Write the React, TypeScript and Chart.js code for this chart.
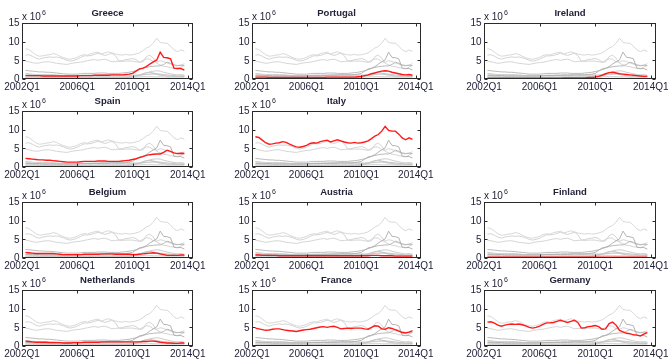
import React, { useEffect, useRef } from "react";
import { Chart, registerables } from "chart.js";

Chart.register(...registerables);

// ---------------- data ----------------
const firstQuarter = "2002Q2";
const xTickLabels = ["2002Q1", "2006Q1", "2010Q1", "2014Q1"];
const yTicks = [0, 5, 10, 15];
const yExponent = "6";

// quarterly values, 2002Q2 ... 2013Q4 (x 10^6)
const greece = [
  0.9, 0.9, 0.9,
  0.9, 0.9, 0.8, 0.8,
  0.8, 0.8, 0.8, 0.8,
  0.8, 0.8, 0.8, 0.8,
  0.8, 0.9, 0.9, 0.9,
  0.9, 1.0, 1.0, 1.0,
  1.0, 1.0, 1.1, 1.1,
  1.1, 1.1, 1.2, 1.3,
  1.5, 2.1, 2.7, 2.9,
  3.3, 4.0, 4.6, 5.1,
  7.2, 5.8, 5.7, 5.4,
  2.9, 2.8, 2.8, 2.4,
];
const portugal = [
  0.5, 0.5, 0.5,
  0.5, 0.4, 0.4, 0.4,
  0.4, 0.4, 0.4, 0.4,
  0.4, 0.4, 0.4, 0.4,
  0.4, 0.4, 0.4, 0.4,
  0.4, 0.4, 0.5, 0.5,
  0.5, 0.5, 0.5, 0.5,
  0.5, 0.5, 0.5, 0.6,
  0.7, 0.9, 1.1, 1.4,
  1.6, 1.9, 2.1, 2.2,
  2.1, 1.8, 1.6, 1.4,
  1.2, 1.1, 1.2, 1.0,
];
const ireland = [
  0.2, 0.2, 0.2,
  0.2, 0.2, 0.2, 0.2,
  0.2, 0.2, 0.2, 0.2,
  0.2, 0.2, 0.2, 0.2,
  0.2, 0.2, 0.2, 0.2,
  0.2, 0.2, 0.2, 0.3,
  0.3, 0.3, 0.3, 0.3,
  0.3, 0.3, 0.4, 0.4,
  0.5, 0.7, 1.0, 1.4,
  1.7, 1.8, 1.6, 1.4,
  1.3, 1.2, 1.1, 1.0,
  0.9, 0.8, 0.7, 0.7,
];
const spain = [
  2.3, 2.2, 2.1,
  2.0, 1.9, 1.9, 1.8,
  1.8, 1.7, 1.6, 1.5,
  1.4, 1.3, 1.3, 1.3,
  1.3, 1.4, 1.5, 1.5,
  1.5, 1.5, 1.6, 1.6,
  1.6, 1.5, 1.5, 1.5,
  1.5, 1.6, 1.7, 1.8,
  2.0, 2.2, 2.5, 2.8,
  3.1, 3.3, 3.4, 3.5,
  3.5, 3.9, 4.5, 4.2,
  3.8, 3.6, 3.7, 3.6,
];
const italy = [
  8.1, 7.9, 7.2,
  6.5, 6.1, 6.2, 6.4,
  6.5, 6.8, 6.6, 6.1,
  5.7, 5.4, 5.3, 5.5,
  5.8, 6.3, 6.5, 6.4,
  6.8, 7.0, 7.2, 6.7,
  7.0, 7.3, 7.0, 6.7,
  6.5, 6.4, 6.6, 6.4,
  6.5, 6.7, 7.0, 7.6,
  8.3, 8.7, 9.6, 10.9,
  9.8, 9.6, 9.6, 8.8,
  7.8, 7.3, 7.8, 7.4,
];
const belgium = [
  1.5, 1.4, 1.3,
  1.2, 1.2, 1.2, 1.2,
  1.2, 1.2, 1.1, 1.0,
  0.9, 0.9, 0.9, 0.9,
  0.9, 0.9, 1.0, 1.0,
  1.0, 1.0, 1.0, 1.1,
  1.1, 1.1, 1.1, 1.0,
  1.0, 1.0, 1.0, 1.0,
  0.9, 0.9, 1.0, 1.1,
  1.2, 1.3, 1.4, 1.3,
  1.1, 0.9, 0.7, 0.7,
  0.7, 0.7, 0.8, 0.8,
];
const austria = [
  0.8, 0.8, 0.7,
  0.7, 0.7, 0.7, 0.7,
  0.6, 0.6, 0.6, 0.6,
  0.6, 0.6, 0.6, 0.6,
  0.6, 0.6, 0.6, 0.6,
  0.6, 0.6, 0.6, 0.6,
  0.6, 0.6, 0.6, 0.6,
  0.6, 0.6, 0.6, 0.6,
  0.6, 0.6, 0.6, 0.7,
  0.7, 0.7, 0.6, 0.6,
  0.6, 0.6, 0.5, 0.5,
  0.5, 0.5, 0.5, 0.5,
];
const finland = [
  0.2, 0.2, 0.2,
  0.2, 0.2, 0.2, 0.2,
  0.2, 0.2, 0.2, 0.2,
  0.2, 0.2, 0.2, 0.2,
  0.2, 0.2, 0.2, 0.2,
  0.2, 0.2, 0.2, 0.2,
  0.2, 0.2, 0.2, 0.2,
  0.2, 0.2, 0.2, 0.2,
  0.2, 0.2, 0.2, 0.2,
  0.2, 0.2, 0.2, 0.2,
  0.2, 0.2, 0.2, 0.2,
  0.2, 0.2, 0.2, 0.2,
];
const netherlands = [
  1.3, 1.2, 1.1,
  1.0, 1.0, 1.0, 1.0,
  0.9, 0.9, 0.9, 0.9,
  0.8, 0.8, 0.8, 0.9,
  0.9, 0.9, 1.0, 1.0,
  1.0, 1.0, 1.0, 1.1,
  1.1, 1.1, 1.1, 1.1,
  1.1, 1.1, 1.1, 1.1,
  1.1, 1.1, 1.1, 1.2,
  1.2, 1.3, 1.3, 1.2,
  1.0, 0.9, 0.8, 0.8,
  0.7, 0.7, 0.8, 0.8,
];
const france = [
  4.8, 4.6, 4.4,
  4.2, 4.3, 4.5, 4.6,
  4.6, 4.4, 4.2, 4.1,
  4.0, 3.9, 4.1, 4.3,
  4.4, 4.5, 4.7, 4.9,
  5.1, 5.2, 5.0, 5.2,
  5.3, 5.0, 4.6, 4.7,
  4.8, 4.7, 4.8, 4.8,
  4.8, 4.6, 4.5, 5.0,
  5.4, 5.3, 4.6, 4.5,
  4.9, 4.7, 4.3, 4.0,
  3.6, 3.5, 3.7, 4.1,
];
const germany = [
  6.4, 6.5, 6.1,
  5.6, 5.3, 5.6, 5.8,
  5.9, 5.8, 5.9, 5.7,
  5.4, 5.0, 4.8, 5.0,
  5.3, 5.8, 6.2, 6.2,
  6.3, 6.6, 6.9, 6.6,
  6.3, 6.6, 6.9, 6.3,
  4.8, 4.9, 5.2, 5.3,
  5.5, 5.2, 4.5, 4.6,
  6.0, 6.4, 5.6, 4.2,
  3.8, 3.4, 3.3, 3.0,
  2.9, 2.7, 3.2, 3.6,
];

const countries = [
  "Greece", "Portugal", "Ireland", "Spain", "Italy", "Belgium",
  "Austria", "Finland", "Netherlands", "France", "Germany",
];
const seriesByCountry: Record<string, number[]> = {
  Greece: greece, Portugal: portugal, Ireland: ireland, Spain: spain,
  Italy: italy, Belgium: belgium, Austria: austria, Finland: finland,
  Netherlands: netherlands, France: france, Germany: germany,
};
const grayByCountry: Record<string, string> = {
  Greece: "#ababab", Portugal: "#c6c6c6", Ireland: "#bebebe", Spain: "#b2b2b2",
  Italy: "#d4d4d4", Belgium: "#cbcbcb", Austria: "#cecece", Finland: "#c8c8c8",
  Netherlands: "#cccccc", France: "#d0d0d0", Germany: "#cfcfcf",
};

// grid of panels (row, col) -> country
const panelGrid = [
  ["Greece", "Portugal", "Ireland"],
  ["Spain", "Italy", null],
  ["Belgium", "Austria", "Finland"],
  ["Netherlands", "France", "Germany"],
];

// ---------------- layout ----------------
const colLeft = [22, 252, 484];
const colWidth = [171, 169, 172];
const rowTop = [23, 111, 202, 290];
const boxHeight = 56;
const PAD = { left: 24, top: 23, right: 18, bottom: 16 };
const X_MAX = 49.5;
const TEXT = "#23233a";
const FONT = '"Liberation Sans", Arial, Helvetica, sans-serif';

const quarterIndex = (s: string) =>
  (parseInt(s.slice(0, 4), 10) - 2002) * 4 + parseInt(s.slice(5), 10) - 1;

function Panel({ name, left, top, width, height }: { name: string; left: number; top: number; width: number; height: number }) {
  const ref = useRef<HTMLCanvasElement | null>(null);
  useEffect(() => {
    const canvas = ref.current;
    if (!canvas) return;
    const start = quarterIndex(firstQuarter);
    const toPoints = (arr: number[]) => arr.map((v, i) => ({ x: start + i, y: v }));
    const others = countries.filter((c) => c !== name);
    const datasets: any[] = [
      {
        label: name,
        data: toPoints(seriesByCountry[name]),
        borderColor: "rgb(255,25,25)",
        borderWidth: 1.4,
        pointRadius: 0,
        tension: 0,
      },
      ...others.map((c) => ({
        label: c,
        data: toPoints(seriesByCountry[c]),
        borderColor: grayByCountry[c],
        borderWidth: 0.9,
        pointRadius: 0,
        tension: 0,
      })),
    ];

    const framePlugin = {
      id: "frame",
      afterDraw(chart: any) {
        const { ctx, chartArea } = chart;
        const xs = chart.scales.x;
        const ys = chart.scales.y;
        const l = Math.round(chartArea.left) + 0.5;
        const r = Math.round(chartArea.right) - 0.5;
        const t = Math.round(chartArea.top) + 0.5;
        const b = Math.round(chartArea.bottom) - 0.5;
        ctx.save();
        ctx.strokeStyle = "#2a2a2a";
        ctx.lineWidth = 1;
        ctx.strokeRect(l, t, r - l, b - t);
        const tick = 3;
        ctx.beginPath();
        yTicks.forEach((v) => {
          const y = Math.round(ys.getPixelForValue(v)) + 0.5;
          ctx.moveTo(l, y); ctx.lineTo(l + tick, y);
          ctx.moveTo(r, y); ctx.lineTo(r - tick, y);
        });
        xTickLabels.forEach((lab) => {
          const x = Math.round(xs.getPixelForValue(quarterIndex(lab))) + 0.5;
          ctx.moveTo(x, b); ctx.lineTo(x, b - tick);
          ctx.moveTo(x, t); ctx.lineTo(x, t + tick);
        });
        ctx.stroke();

        ctx.fillStyle = TEXT;
        ctx.font = `10px ${FONT}`;
        ctx.textAlign = "right";
        ctx.textBaseline = "middle";
        yTicks.forEach((v) => {
          ctx.fillText(String(v), l - 3, ys.getPixelForValue(v) + 0.5);
        });
        ctx.textAlign = "center";
        ctx.textBaseline = "top";
        xTickLabels.forEach((lab) => {
          ctx.fillText(lab, xs.getPixelForValue(quarterIndex(lab)), b + 3.5);
        });
        // exponent label
        ctx.textAlign = "left";
        ctx.textBaseline = "alphabetic";
        ctx.fillText("x 10", l - 0.5, t - 3.5);
        const w = ctx.measureText("x 10").width;
        ctx.font = `7px ${FONT}`;
        ctx.fillText(yExponent, l + w + 0.5, t - 9);
        // title
        ctx.font = `bold 9.5px ${FONT}`;
        ctx.textAlign = "center";
        ctx.fillText(name, (l + r) / 2, t - 7.5);
        ctx.restore();
      },
    };

    const chart = new Chart(canvas, {
      type: "line",
      data: { datasets },
      options: {
        animation: false,
        responsive: false,
        devicePixelRatio: 1,
        events: [],
        layout: { padding: PAD },
        plugins: { legend: { display: false }, tooltip: { enabled: false }, title: { display: false } },
        scales: {
          x: { type: "linear", display: false, min: 0, max: X_MAX },
          y: { type: "linear", display: false, min: 0, max: 15 },
        },
      },
      plugins: [framePlugin],
    } as any);
    return () => chart.destroy();
  }, [name]);

  const cw = width + PAD.left + PAD.right;
  const ch = height + PAD.top + PAD.bottom;
  return (
    <canvas
      ref={ref}
      width={cw}
      height={ch}
      style={{ position: "absolute", left: left - PAD.left, top: top - PAD.top, width: cw, height: ch }}
    />
  );
}

export default function App() {
  const panels: React.ReactNode[] = [];
  panelGrid.forEach((row, ri) =>
    row.forEach((name, ci) => {
      if (!name) return;
      panels.push(
        <Panel key={name} name={name} left={colLeft[ci]} top={rowTop[ri]} width={colWidth[ci]} height={boxHeight} />
      );
    })
  );
  return (
    <div style={{ position: "absolute", left: 0, top: 0, width: 670, height: 360, background: "#fff", overflow: "hidden" }}>
      {panels}
    </div>
  );
}
